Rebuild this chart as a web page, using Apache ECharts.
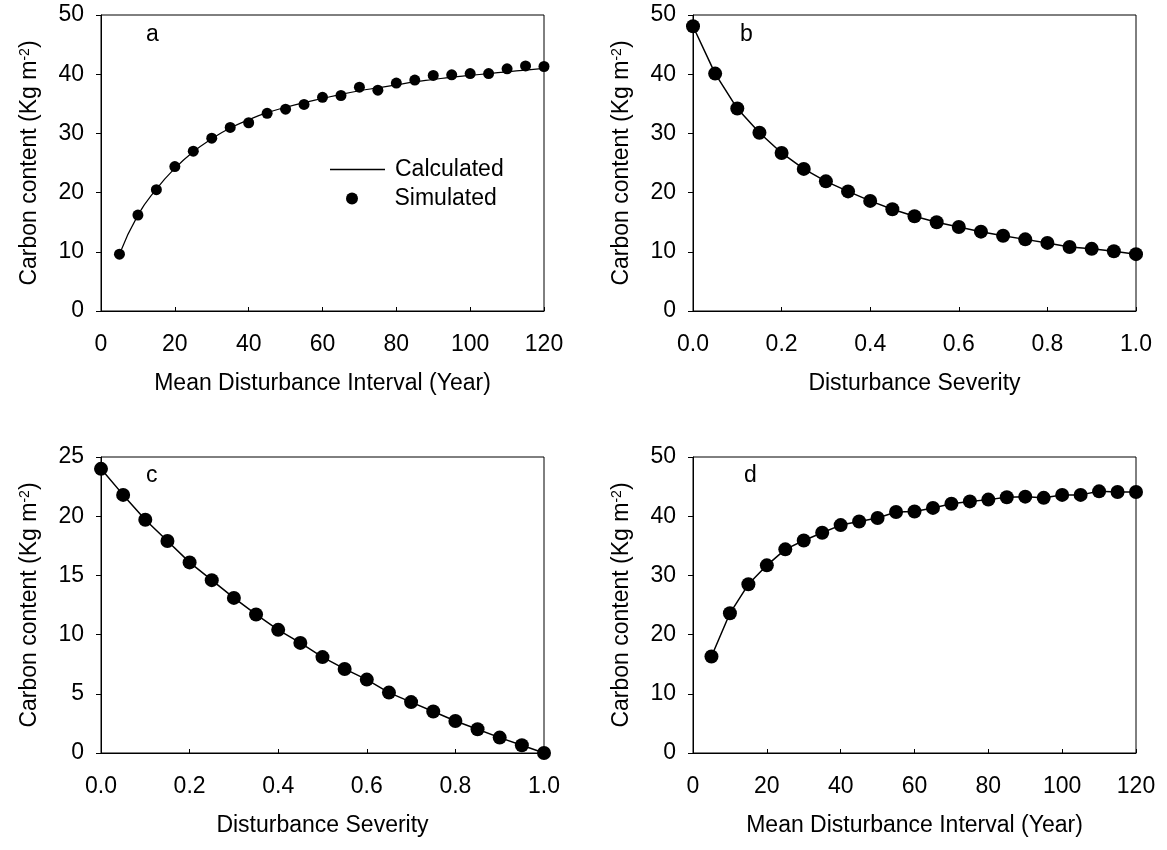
<!DOCTYPE html>
<html>
<head>
<meta charset="utf-8">
<script src="https://cdn.jsdelivr.net/npm/echarts@6/dist/echarts.min.js"></script>
<style>
html, body { margin: 0; padding: 0; background: #fff; }
#main { width: 1167px; height: 850px; }
</style>
</head>
<body>
<div id="main"></div>
<script>
// x values
var intervalYears = [5, 10, 15, 20, 25, 30, 35, 40, 45, 50, 55, 60, 65, 70, 75, 80, 85, 90, 95, 100, 105, 110, 115, 120];
var severity = [0, 0.05, 0.1, 0.15, 0.2, 0.25, 0.3, 0.35, 0.4, 0.45, 0.5, 0.55, 0.6, 0.65, 0.7, 0.75, 0.8, 0.85, 0.9, 0.95, 1.0];

// panel a
var aSimulated = [9.6, 16.2, 20.5, 24.4, 27.0, 29.2, 31.0, 31.8, 33.4, 34.1, 34.9, 36.1, 36.4, 37.8, 37.3, 38.5, 39.0, 39.8, 39.9, 40.1, 40.1, 40.9, 41.4, 41.3];
var aCalculated = [9.6, 16.2, 20.6, 24.1, 26.9, 29.1, 30.9, 32.3, 33.5, 34.4, 35.2, 35.9, 36.6, 37.2, 37.7, 38.2, 38.7, 39.1, 39.5, 39.8, 40.1, 40.4, 40.7, 41.0];
// panel b
var bValues = [48.1, 40.1, 34.2, 30.1, 26.7, 24.0, 21.9, 20.2, 18.6, 17.2, 16.0, 15.0, 14.2, 13.4, 12.7, 12.1, 11.5, 10.8, 10.5, 10.1, 9.6];
// panel c
var cValues = [24.0, 21.8, 19.7, 17.9, 16.1, 14.6, 13.1, 11.7, 10.4, 9.3, 8.1, 7.1, 6.2, 5.1, 4.3, 3.5, 2.7, 2.0, 1.3, 0.65, 0];
// panel d
var dValues = [16.3, 23.6, 28.5, 31.7, 34.4, 35.9, 37.2, 38.5, 39.1, 39.7, 40.7, 40.8, 41.4, 42.1, 42.5, 42.8, 43.2, 43.3, 43.1, 43.6, 43.6, 44.2, 44.1, 44.1];

var FONT = 'Liberation Sans, Arial, sans-serif';
var FS = 23;
var yName = 'Carbon content (Kg m{sup|-2})';

function pairs(xs, ys) {
    return xs.map(function (x, i) { return [x, ys[i]]; });
}

function xAxisOf(idx, max, interval, name, dec) {
    return {
        type: 'value', gridIndex: idx, min: 0, max: max, interval: interval,
        name: name, nameLocation: 'middle', nameGap: 61,
        nameTextStyle: { fontFamily: FONT, fontSize: FS, color: '#000' },
        axisLine: { lineStyle: { color: '#000', width: 1 } },
        axisTick: { show: true, inside: true, length: 4, lineStyle: { color: '#000' } },
        axisLabel: {
            fontFamily: FONT, fontSize: FS, color: '#000', margin: 22,
            formatter: function (v) { return dec ? v.toFixed(1) : String(v); }
        },
        splitLine: { show: false }
    };
}

function yAxisOf(idx, max, interval) {
    return {
        type: 'value', gridIndex: idx, min: 0, max: max, interval: interval,
        name: yName, nameLocation: 'middle', nameGap: 59, nameRotate: 90,
        nameTextStyle: {
            fontFamily: FONT, fontSize: FS, color: '#000',
            rich: { sup: { fontFamily: FONT, fontSize: 14, color: '#000', verticalAlign: 'top', padding: [0, 0, 10, 0] } }
        },
        axisLine: { lineStyle: { color: '#000', width: 1 } },
        axisTick: { show: true, inside: false, length: 5, lineStyle: { color: '#000' } },
        axisLabel: { fontFamily: FONT, fontSize: FS, color: '#000', margin: 17 },
        splitLine: { show: false }
    };
}

function gridOf(left, top) {
    return {
        left: left, top: top, width: 443, height: 296,
        show: true, borderColor: '#000', borderWidth: 1,
        containLabel: false, outerBoundsMode: 'none'
    };
}

function dotLine(idx, data) {
    return {
        type: 'line', xAxisIndex: idx, yAxisIndex: idx, data: data,
        symbol: 'circle', symbolSize: 14, showSymbol: true,
        lineStyle: { color: '#000', width: 1.5 },
        itemStyle: { color: '#000' },
        silent: true
    };
}

function letter(text, left, top) {
    return { text: text, left: left, top: top, textStyle: { fontFamily: FONT, fontSize: FS, fontWeight: 'normal', color: '#000' } };
}

var myChart = echarts.init(document.getElementById('main'));
myChart.setOption({
    animation: false,
    textStyle: { fontFamily: FONT },
    title: [
        letter('a', 141, 18),
        letter('b', 735, 18),
        letter('c', 141, 459),
        letter('d', 739, 459)
    ],
    legend: [
        {
            orient: 'vertical', left: 325, top: 153, itemWidth: 55, itemHeight: 1.5, icon: 'rect',
            textStyle: { fontFamily: FONT, fontSize: FS, color: '#000', padding: [0, 0, 0, 5] },
            data: ['Calculated']
        },
        {
            orient: 'vertical', left: 341, top: 182, itemWidth: 55, itemHeight: 12, icon: 'circle',
            textStyle: { fontFamily: FONT, fontSize: FS, color: '#000', padding: [0, 0, 0, 10] },
            data: ['Simulated']
        }
    ],
    grid: [gridOf(101, 15), gridOf(693, 15), gridOf(101, 457), gridOf(693, 457)],
    xAxis: [
        xAxisOf(0, 120, 20, 'Mean Disturbance Interval (Year)', false),
        xAxisOf(1, 1, 0.2, 'Disturbance Severity', true),
        xAxisOf(2, 1, 0.2, 'Disturbance Severity', true),
        xAxisOf(3, 120, 20, 'Mean Disturbance Interval (Year)', false)
    ],
    yAxis: [
        yAxisOf(0, 50, 10),
        yAxisOf(1, 50, 10),
        yAxisOf(2, 25, 5),
        yAxisOf(3, 50, 10)
    ],
    series: [
        {
            name: 'Calculated', type: 'line', xAxisIndex: 0, yAxisIndex: 0,
            data: pairs(intervalYears, aCalculated), symbol: 'none', smooth: true,
            lineStyle: { color: '#000', width: 1.2 }, itemStyle: { color: '#000' }
        },
        {
            name: 'Simulated', type: 'scatter', xAxisIndex: 0, yAxisIndex: 0,
            data: pairs(intervalYears, aSimulated), symbol: 'circle', symbolSize: 11,
            itemStyle: { color: '#000', opacity: 1 }
        },
        dotLine(1, pairs(severity, bValues)),
        dotLine(2, pairs(severity, cValues)),
        dotLine(3, pairs(intervalYears, dValues))
    ]
});
</script>
</body>
</html>
